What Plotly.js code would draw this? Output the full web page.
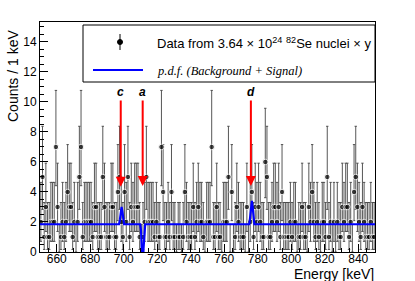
<!DOCTYPE html>
<html><head><meta charset="utf-8">
<script src="https://cdn.plot.ly/plotly-3.0.1.min.js"></script>
<style>html,body{margin:0;padding:0;background:#fff}</style>
</head><body><div id="chart" style="width:415px;height:281px"></div>
<script>
const binStart = 650;
const binWidth = 1;
const counts = [
 2,5,1,3,1,1,2,2,2,7,
 3,0,1,2,1,2,4,3,3,1,
 2,0,2,5,7,1,2,2,2,2,
 2,1,3,3,1,1,1,5,3,1,
 1,1,3,3,1,1,4,5,2,1,
 4,2,5,1,3,2,3,3,3,1,
 0,1,2,5,2,2,2,2,1,2,
 1,1,7,4,1,1,2,1,4,1,
 1,0,1,1,0,1,4,2,1,1,
 1,3,1,2,3,2,2,1,0,2,
 2,2,7,1,1,3,1,1,0,2,
 2,2,5,0,4,0,1,3,2,1,
 1,1,0,3,0,2,4,1,3,2,
 3,2,1,1,6,5,1,1,2,3,
 3,2,3,1,4,1,1,1,1,2,
 1,2,2,0,1,1,3,1,1,0,
 3,2,4,2,1,2,1,0,2,2,
 1,5,1,2,0,2,0,2,1,1,
 3,2,3,3,1,2,0,4,5,3,
 2,1,3,2,1,1,1,2,1,1
];
// Garwood Poisson 68% interval half-widths, indexed by count
const poissonUpper = [1.84,2.30,2.64,2.92,3.16,3.38,3.58,3.77,3.97];
const poissonLower = [0,0.83,1.29,1.63,1.91,2.16,2.38,2.58,2.77];

const pdfEnergy = [650,697.2,697.7,698.2,698.7,699.2,699.7,700.2,
  709.8,710.3,710.8,711.3,711.8,712.3,712.8,
  775,775.5,776,776.5,777,777.5,778,850];
const pdfValue = [1.85,1.85,2.15,2.7,3.0,2.7,2.15,1.85,
  1.85,1.45,0.2,-2.2,0.2,1.45,1.85,
  1.85,2.25,2.95,3.4,2.95,2.25,1.85,1.85];

const arrowEnergy = [698.2,711.3,775.9];
const arrowLabels = ['c','a','d'];
const arrowTip = [4.35,4.4,4.4];
const arrowTail = 10.67;

const legendText1 = 'Data from 3.64 \u00d7 10<sup>24</sup> <sup>82</sup>Se nuclei \u00d7 y';
const legendText2 = 'p.d.f. (Background + Signal)';

const xs = counts.map((c,i)=>binStart + binWidth*(i+0.5));
const errUp = counts.map(c=>poissonUpper[c]);
const errLo = counts.map(c=>poissonLower[c]);
const msize = counts.map(c=>c>0?5.5:0);

const data = [
 {x: xs, y: counts, type:'scatter', mode:'markers',
  marker:{color:'black', size:msize},
  error_y:{type:'data', symmetric:false, array:errUp, arrayminus:errLo,
           color:'#444', thickness:0.9, width:1.2},
  showlegend:false, cliponaxis:true},
 {x: pdfEnergy, y: pdfValue, type:'scatter', mode:'lines',
  line:{color:'#0000ff', width:2.2}, showlegend:false}
];

const ann = [];
arrowEnergy.forEach((e,i)=>{
  ann.push({x:e, y:arrowTip[i], xref:'x', yref:'y',
    ax:e, ay:arrowTail, axref:'x', ayref:'y',
    text:'<b><i>'+arrowLabels[i]+'</i></b>', showarrow:true,
    arrowhead:2, arrowsize:1, arrowwidth:2, arrowcolor:'#ff0000',
    font:{family:'Liberation Sans, Arial', size:12, color:'black'}, standoff:0, startstandoff:0});
});
// axis titles
ann.push({xref:'paper', yref:'paper', x:1, y:0, xanchor:'right', yanchor:'middle', yshift:-22,
  text:'Energy [keV]', showarrow:false, borderpad:0, font:{family:'Liberation Sans, Arial', size:14, color:'black'}});
ann.push({xref:'paper', yref:'paper', x:0, y:1, xanchor:'center', yanchor:'top', xshift:-27, yshift:-7,
  text:'Counts / 1 keV', textangle:-90, showarrow:false, borderpad:0, font:{family:'Liberation Sans, Arial', size:14, color:'black'}});
// legend texts
ann.push({xref:'paper', yref:'paper', x:(155-40)/335, y:(252-43)/230, xanchor:'left', yanchor:'middle',
  text:legendText1, showarrow:false, font:{family:'Liberation Sans, Arial', size:13, color:'black'}});
ann.push({xref:'paper', yref:'paper', x:(155-40)/335, y:(252-71)/230, xanchor:'left', yanchor:'middle',
  text:'<i>'+legendText2+'</i>', showarrow:false, font:{family:'Liberation Serif, Times New Roman', size:12.5, color:'black'}});

const px = v=>(v-40)/335, py = v=>(252-v)/230;
const shapes = [
 {type:'rect', xref:'paper', yref:'paper', x0:px(83), x1:px(375), y0:py(82), y1:py(25),
  line:{color:'black', width:1}, fillcolor:'white', layer:'above'},
 {type:'line', xref:'paper', yref:'paper', x0:px(120), x1:px(120), y0:py(50), y1:py(34),
  line:{color:'black', width:1}},
 {type:'circle', xref:'paper', yref:'paper', x0:px(117.5), x1:px(122.5), y0:py(44.5), y1:py(39.5),
  line:{color:'black', width:1}, fillcolor:'black'},
 {type:'line', xref:'paper', yref:'paper', x0:px(93), x1:px(143), y0:py(70), y1:py(70),
  line:{color:'#0000ff', width:2}}
];

const layout = {
 width:415, height:281,
 margin:{l:40, r:40, t:22, b:29},
 paper_bgcolor:'white', plot_bgcolor:'white',
 font:{family:'Liberation Sans, Arial', size:12, color:'black'},
 xaxis:{range:[650,850], dtick:20, tick0:640, ticks:'inside', ticklen:8, tickcolor:'black',
   showline:true, mirror:true, linecolor:'black', linewidth:1, showgrid:false, zeroline:false,
   minor:{dtick:5, ticks:'inside', ticklen:4, tickcolor:'black'},
   ticklabelstandoff:-4, tickfont:{size:12}},
 yaxis:{range:[0,15.33], dtick:2, ticks:'inside', ticklen:8, tickcolor:'black',
   showline:true, mirror:true, linecolor:'black', linewidth:1, showgrid:false, zeroline:false,
   minor:{dtick:0.5, ticks:'inside', ticklen:4, tickcolor:'black'},
   tickfont:{size:12}},
 annotations:ann, shapes:shapes, showlegend:false
};
Plotly.newPlot('chart', data, layout, {staticPlot:true, displayModeBar:false});
</script></body></html>
